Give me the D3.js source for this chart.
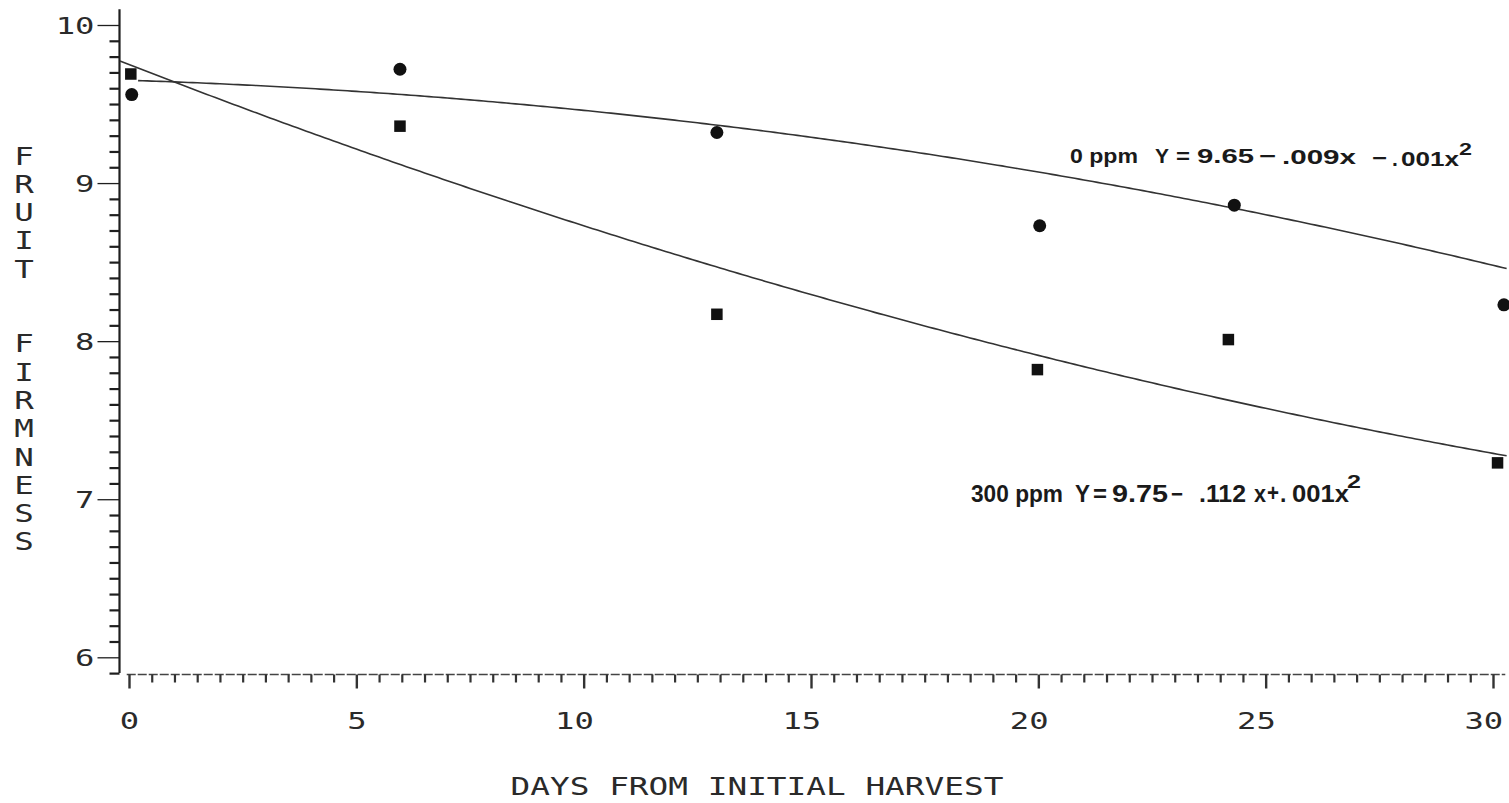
<!DOCTYPE html>
<html>
<head>
<meta charset="utf-8">
<script src="https://cdn.jsdelivr.net/npm/d3@7"></script>
<style>
  html, body { margin: 0; padding: 0; background: #ffffff; }
  svg { display: block; }
  .plotter { font-family: "DejaVu Sans Mono", monospace; fill: #2a2a2a; }
  .eq { font-family: "Liberation Sans", Arial, sans-serif; font-weight: bold; fill: #1a1a1a; }
</style>
</head>
<body>
<svg id="chart" width="1509" height="803"></svg>
<script>
// Days after initial harvest and fruit firmness readings
const days0 = [0.06, 5.96, 12.93, 20.03, 24.31, 30.24];
const firm0 = [9.56, 9.72, 9.32, 8.73, 8.86, 8.23];      // 0 ppm (circles)
const days300 = [0.04, 5.96, 12.93, 19.98, 24.18, 30.1];
const firm300 = [9.69, 9.36, 8.17, 7.82, 8.01, 7.23];    // 300 ppm (squares)

// Fitted quadratic coefficients [a, b, c] for Y = a + b·x + c·x²
const fit0 = [9.65, -0.009, -0.001];
const fit300 = [9.75, -0.112, 0.001];

const xMajorTicks = [0, 5, 10, 15, 20, 25, 30];
const yMajorTicks = [6, 7, 8, 9, 10];
const yTitleWords = ["FRUIT", "FIRMNESS"];
const xTitle = "DAYS FROM INITIAL HARVEST";

const svg = d3.select("#chart");

const x = d3.scaleLinear().domain([0, 30]).range([129, 1493]);
const y = d3.scaleLinear().domain([6, 10]).range([657.3, 25]);

const ink = "#1e1e1e";
const SX = 1.4;            // horizontal stretch of the plotter lettering
const FS = 23;             // plotter lettering size
const HALF = FS * 0.602 / 2; // half a monospace cell

// ---- Y axis ----
const yAxisX = 119.5;
const gy = svg.append("g").attr("transform", `translate(${yAxisX},0)`);
gy.append("line")
  .attr("x1", 0).attr("x2", 0)
  .attr("y1", y(10.1)).attr("y2", y(5.9))
  .attr("stroke", ink).attr("stroke-width", 2.2);

const yMinor = d3.range(59, 101).map(d => d / 10).filter(d => !yMajorTicks.includes(d));
gy.append("g")
  .call(d3.axisLeft(y).tickValues(yMinor).tickSize(10).tickFormat("").tickSizeOuter(0))
  .call(g => g.select(".domain").remove())
  .call(g => g.selectAll("line").attr("stroke", ink).attr("stroke-width", 2.2));

gy.append("g")
  .call(d3.axisLeft(y).tickValues(yMajorTicks).tickSize(22).tickPadding(0).tickFormat(d3.format("d")).tickSizeOuter(0))
  .call(g => g.select(".domain").remove())
  .call(g => g.selectAll("line").attr("stroke", ink).attr("stroke-width", 1.3))
  .call(g => g.selectAll("text")
    .attr("class", "plotter")
    .attr("font-size", FS)
    .attr("x", -25 / SX)
    .attr("dy", "0.36em")
    .attr("transform", `scale(${SX},1)`)
    .attr("fill", "#2a2a2a"));

// ---- X axis ----
const xAxisY = 674.5;
const gx = svg.append("g").attr("transform", `translate(0,${xAxisY})`);
gx.append("line")
  .attr("x1", x(-0.05)).attr("x2", x(30.27))
  .attr("y1", 0).attr("y2", 0)
  .attr("stroke", "#444").attr("stroke-width", 1.6)
  .attr("stroke-dasharray", "9 2");

const xMinor = d3.range(0, 61).map(d => d / 2).filter(d => !xMajorTicks.includes(d));
gx.append("g")
  .call(d3.axisBottom(x).tickValues(xMinor).tickSize(8).tickFormat("").tickSizeOuter(0))
  .call(g => g.select(".domain").remove())
  .call(g => g.selectAll("line").attr("stroke", "#333").attr("stroke-width", 2.2));

// labels are right-aligned so that their last digit sits on the tick
gx.append("g")
  .call(d3.axisBottom(x).tickValues(xMajorTicks).tickSize(14).tickFormat(d3.format("d")).tickSizeOuter(0))
  .call(g => g.select(".domain").remove())
  .call(g => g.selectAll("line").attr("stroke", "#333").attr("stroke-width", 2.4))
  .call(g => g.selectAll("text")
    .attr("class", "plotter")
    .attr("font-size", FS)
    .attr("text-anchor", "end")
    .attr("x", HALF)
    .attr("y", 54.5)
    .attr("dy", 0)
    .attr("transform", `scale(${SX},1)`)
    .attr("fill", "#2a2a2a"));

// ---- Axis titles ----
svg.append("text")
  .attr("class", "plotter")
  .attr("font-size", 25)
  .attr("text-anchor", "middle")
  .attr("transform", `translate(757,795) scale(1.31,1)`)
  .text(xTitle);

const wordStarts = [155.5, 343.3];
const letterStep = 28.3;
yTitleWords.forEach((word, w) => {
  word.split("").forEach((ch, i) => {
    svg.append("text")
      .attr("class", "plotter")
      .attr("font-size", 25)
      .attr("text-anchor", "middle")
      .attr("dy", "0.36em")
      .attr("transform", `translate(24,${wordStarts[w] + i * letterStep}) scale(1.3,1)`)
      .text(ch);
  });
});

// ---- Fitted curves ----
const quad = (c, t) => c[0] + c[1] * t + c[2] * t * t;
const line = d3.line().x(d => x(d[0])).y(d => y(d[1])).curve(d3.curveLinear);

const grid0 = d3.range(0.2, 30.36, 0.1);
svg.append("path")
  .datum(grid0.map(t => [t, quad(fit0, t)]))
  .attr("d", line)
  .attr("fill", "none").attr("stroke", "#333").attr("stroke-width", 1.6);

const grid300 = d3.range(-0.2, 30.36, 0.1);
svg.append("path")
  .datum(grid300.map(t => [t, quad(fit300, t)]))
  .attr("d", line)
  .attr("fill", "none").attr("stroke", "#333").attr("stroke-width", 1.6);

// ---- Observations ----
svg.append("g").selectAll("circle")
  .data(days0.map((d, i) => [d, firm0[i]]))
  .join("circle")
  .attr("cx", d => x(d[0])).attr("cy", d => y(d[1]))
  .attr("r", 6.5).attr("fill", "#111");

const sq = 11.5;
svg.append("g").selectAll("rect")
  .data(days300.map((d, i) => [d, firm300[i]]))
  .join("rect")
  .attr("x", d => x(d[0]) - sq / 2).attr("y", d => y(d[1]) - sq / 2)
  .attr("width", sq).attr("height", sq).attr("fill", "#111");

// ---- Equation labels ----
// piece: [text, left x, width (0 = natural), baseline shift, superscript?]
function equation(pieces, baseline, size) {
  const g = svg.append("g");
  pieces.forEach(([txt, px, w, shift, sup]) => {
    const t = g.append("text")
      .attr("class", "eq")
      .attr("x", px)
      .attr("y", baseline + (shift || 0))
      .attr("font-size", sup ? size * 0.78 : size)
      .text(txt);
    if (w) t.attr("textLength", w).attr("lengthAdjust", "spacingAndGlyphs");
  });
}

equation([
  ["0 ppm", 1070, 68, 0], ["Y", 1155, 14, 0], ["=", 1176, 14, 0], ["9.65", 1197, 57, 0],
  ["\u2212", 1259, 17, 0], [".009x", 1282, 74, 1], ["\u2212", 1372, 15, 2], [".", 1392, 0, 3],
  ["001x", 1401, 58, 3], ["2", 1459, 13, -8, true]
], 163, 21);

equation([
  ["300 ppm", 971, 92, 0], ["Y", 1075, 15, 0], ["=", 1093, 14, 0], ["9.75", 1112, 56, 0],
  ["\u2212", 1171, 12, 0], [".112", 1199, 47, 0], ["x", 1254, 12, 0], ["+", 1267, 12, -1],
  [".", 1280, 0, 0], ["001x", 1292, 57, 0], ["2", 1347, 14, -14, true]
], 502, 23);
</script>
</body>
</html>
